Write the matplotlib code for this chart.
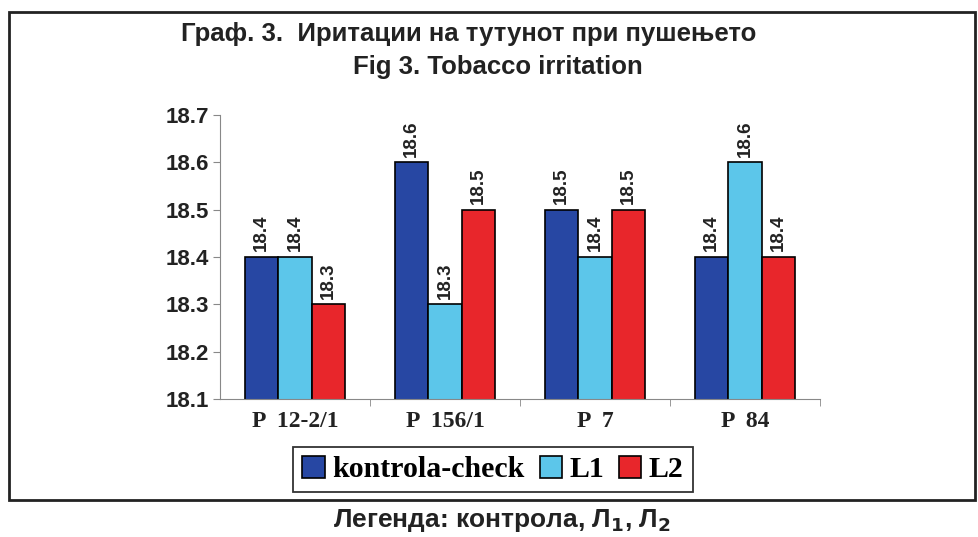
import matplotlib.pyplot as plt
from matplotlib.patches import Rectangle, Patch
import numpy as np

# податоци
groups = ['P  12-2/1', 'P  156/1', 'P  7', 'P  84']
kontrola = [18.4, 18.6, 18.5, 18.4]
L1 = [18.4, 18.3, 18.4, 18.6]
L2 = [18.3, 18.5, 18.5, 18.4]
series_names = ['kontrola-check', 'L1', 'L2']
colors = ['#2747a3', '#5cc6ea', '#e8262b']

fig = plt.figure()
fig.set_size_inches(9.79, 5.37)
fig.set_dpi(100)

ax = fig.add_axes([0.2247, 0.257, 0.6129, 0.529])

x = np.arange(len(groups))
w = 2 / 9
for i, vals in enumerate([kontrola, L1, L2]):
    pos = x + (i - 1) * w
    ax.bar(pos, vals, width=w, color=colors[i], edgecolor='black', linewidth=1.2)
    for p, v in zip(pos, vals):
        ax.text(p, v + 0.012, str(v), rotation=90, ha='center', va='bottom',
                fontsize=13.5, family='Liberation Sans', fontweight='bold', color='#222222')

ax.set_ylim(18.1, 18.7)
ax.set_xlim(-0.5, 3.5)
ax.set_yticks([18.1, 18.2, 18.3, 18.4, 18.5, 18.6, 18.7])
ax.set_yticklabels(['18.1', '18.2', '18.3', '18.4', '18.5', '18.6', '18.7'],
                   family='Liberation Sans', fontweight='bold', fontsize=16, color='#222222')
ax.set_xticks(x)
ax.set_xticklabels(groups, family='Liberation Serif', fontweight='bold', fontsize=17, color='#222222')
ax.tick_params(axis='x', length=0, pad=9)
ax.set_xticks([0.5, 1.5, 2.5, 3.5], minor=True)
ax.tick_params(axis='x', which='minor', length=5, color='#888888')
ax.tick_params(axis='y', length=5, color='#888888', pad=3)
for s in ['top', 'right']:
    ax.spines[s].set_visible(False)
for s in ['left', 'bottom']:
    ax.spines[s].set_color('#888888')

# наслов (двата реда не се центрирани исто)
fig.text(469 / 979, 0.936, 'Граф. 3.  Иритации на тутунот при пушењето', ha='center', va='center',
         family='Liberation Sans', fontweight='bold', fontsize=18.5, color='#222222')
fig.text(498 / 979, 0.876, 'Fig 3. Tobacco irritation', ha='center', va='center',
         family='Liberation Sans', fontweight='bold', fontsize=18.5, color='#222222')

# легенда
handles = [Patch(facecolor=c, edgecolor='black', linewidth=1.2) for c in colors]
leg = fig.legend(handles, series_names, loc='center', bbox_to_anchor=(493 / 979, 0.126),
                 ncol=3, frameon=True, fancybox=False, handlelength=0.75, handleheight=0.75,
                 handletextpad=0.25, columnspacing=0.5, borderpad=0.3,
                 prop={'family': 'Liberation Serif', 'weight': 'bold', 'size': 21.5})
leg.get_frame().set_edgecolor('black')
leg.get_frame().set_linewidth(1.3)

# рамка
fig.patches.append(Rectangle((9 / 979, 1 - 500 / 537), 966 / 979, 488 / 537,
                             transform=fig.transFigure, fill=False,
                             edgecolor='#222222', linewidth=2))

fig.text(502 / 979, 0.03, r'Легенда: контрола, Л$_\mathbf{1}$, Л$_\mathbf{2}$', ha='center', va='center',
         family='Liberation Sans', fontweight='bold', fontsize=19, color='#222222')

fig.savefig('out.png', dpi=100)
